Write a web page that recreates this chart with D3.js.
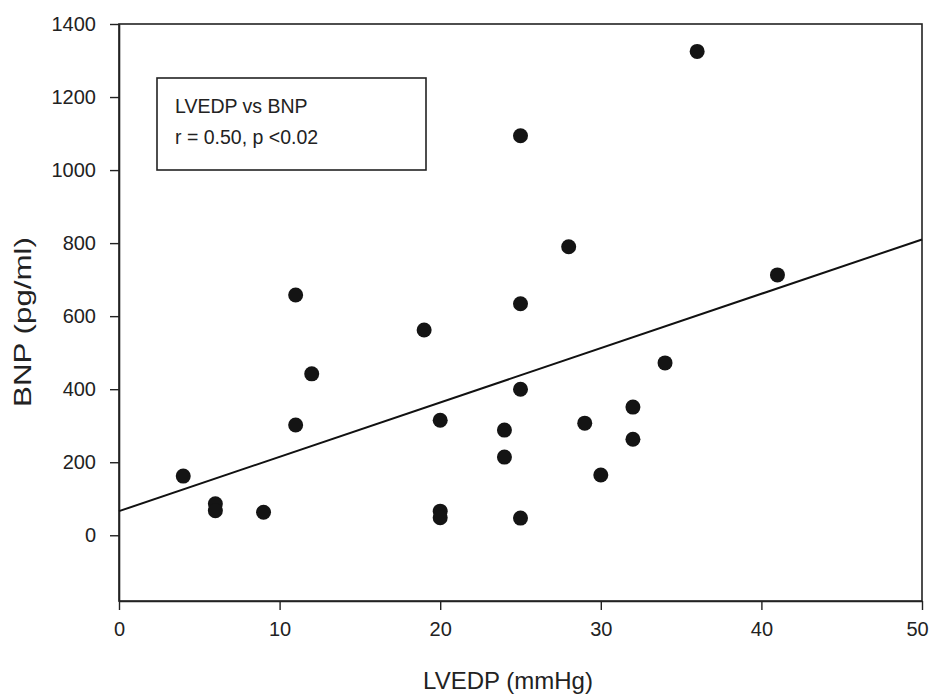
<!DOCTYPE html>
<html>
<head>
<meta charset="utf-8">
<script src="https://cdn.jsdelivr.net/npm/d3@7"></script>
<style>
  html, body { margin: 0; padding: 0; background: #fff; }
  svg { display: block; }
  text { font-family: "Liberation Sans", Arial, sans-serif; fill: #222; }
</style>
</head>
<body>
<svg id="chart" width="932" height="698"></svg>
<script>
// ---- data ----
const lvedp = [4, 6, 6, 9, 11, 11, 12, 19, 20, 20, 20, 24, 24, 25, 25, 25, 25, 28, 29, 30, 32, 32, 34, 36, 41];
const bnp   = [162, 86, 67, 63, 658, 302, 442, 562, 315, 66, 48, 288, 214, 47, 400, 634, 1094, 790, 307, 165, 351, 263, 472, 1325, 713];
const fitX = [0, 50];
const fitY = [66, 810];
const xTicks = [0, 10, 20, 30, 40, 50];
const yTicks = [0, 200, 400, 600, 800, 1000, 1200, 1400];
const xDomain = [0, 50];
const yDomain = [-180, 1400];
const legendLines = ["LVEDP vs BNP", "r = 0.50, p <0.02"];
const xTitle = "LVEDP (mmHg)";
const yTitle = "BNP (pg/ml)";

const svg = d3.select("#chart");
const mLeft = 119, mRight = 922, mTop = 24, mBottom = 601;

const x = d3.scaleLinear().domain(xDomain).range([mLeft, mRight]);
const y = d3.scaleLinear().domain(yDomain).range([mBottom, mTop]);

// frame
svg.append("rect")
  .attr("x", mLeft).attr("y", mTop)
  .attr("width", mRight - mLeft).attr("height", mBottom - mTop)
  .attr("fill", "none").attr("stroke", "#222").attr("stroke-width", 1.6);

// axes
const yAxis = d3.axisLeft(y).tickValues(yTicks).tickSizeInner(9).tickSizeOuter(0).tickPadding(14).tickFormat(d3.format("d"));
const gy = svg.append("g").attr("transform", `translate(${mLeft},0)`).call(yAxis);
gy.select(".domain").attr("stroke", "#222").attr("stroke-width", 1.6);
gy.selectAll(".tick line").attr("stroke", "#222").attr("stroke-width", 1.4);
gy.selectAll(".tick text").style("font-size", "20px").attr("fill", "#222");

const xAxis = d3.axisBottom(x).tickValues(xTicks).tickSizeInner(9).tickSizeOuter(0).tickPadding(12).tickFormat(d3.format("d"));
const gx = svg.append("g").attr("transform", `translate(0,${mBottom})`).call(xAxis);
gx.select(".domain").attr("stroke", "#222").attr("stroke-width", 1.6);
gx.selectAll(".tick line").attr("stroke", "#222").attr("stroke-width", 1.4);
gx.selectAll(".tick text").style("font-size", "20px").attr("fill", "#222")
  .attr("dx", d => d === xDomain[1] ? -5 : 0);

// regression line
svg.append("line")
  .attr("x1", x(fitX[0])).attr("y1", y(fitY[0]))
  .attr("x2", x(fitX[1])).attr("y2", y(fitY[1]))
  .attr("stroke", "#111").attr("stroke-width", 2);

// points
svg.append("g").selectAll("circle")
  .data(lvedp.map((v, i) => [v, bnp[i]]))
  .join("circle")
  .attr("cx", d => x(d[0]))
  .attr("cy", d => y(d[1]))
  .attr("r", 7.5)
  .attr("fill", "#141414");

// legend box
const lg = svg.append("g");
lg.append("rect")
  .attr("x", 157).attr("y", 78).attr("width", 269).attr("height", 92)
  .attr("fill", "#fff").attr("stroke", "#222").attr("stroke-width", 1.6);
lg.selectAll("text.leg")
  .data(legendLines)
  .join("text")
  .attr("class", "leg")
  .attr("x", 175)
  .attr("y", (d, i) => 113 + i * 31)
  .style("font-size", "19.5px")
  .text(d => d);

// axis titles
svg.append("text")
  .attr("x", 508).attr("y", 689)
  .attr("text-anchor", "middle")
  .style("font-size", "24px")
  .text(xTitle);

svg.append("text")
  .attr("transform", "translate(31,322) rotate(-90)")
  .attr("text-anchor", "middle")
  .attr("textLength", 170)
  .attr("lengthAdjust", "spacingAndGlyphs")
  .style("font-size", "24px")
  .text(yTitle);
</script>
</body>
</html>
